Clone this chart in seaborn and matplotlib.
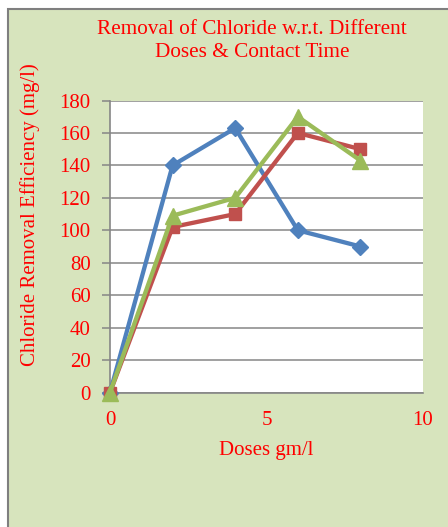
import matplotlib
matplotlib.use("Agg")
import matplotlib.pyplot as plt
from matplotlib.patches import Rectangle
import seaborn as sns
import pandas as pd

# Dose levels (gm/l) and chloride removal for each series (mg/l)
doses = [0, 2, 4, 6, 8]
series1 = [0, 140, 163, 100, 90]
series2 = [0, 102, 110, 160, 150]
series3 = [0, 109, 120, 170, 143]
series_names = ["Series1", "Series2", "Series3"]
y_ticks = [0, 20, 40, 60, 80, 100, 120, 140, 160, 180]
x_ticks = [0, 5, 10]

colors = ["#4F81BD", "#C0504D", "#9BBB59"]
markers = ["D", "s", "^"]
marker_sizes = [8, 8, 11.5]

sns.set_theme(style="white")
plt.rcParams["font.family"] = ["Liberation Serif", "DejaVu Serif"]

W, H, DPI = 448, 527, 100
fig = plt.figure(figsize=(W / DPI, H / DPI), dpi=DPI)
fig.patch.set_facecolor("white")

# Light green chart panel with grey frame
panel = Rectangle((8 / W, -0.01), 1.0, 1 - 9 / H + 0.01, transform=fig.transFigure,
                  facecolor="#D7E4BD", edgecolor="#7F7F7F", linewidth=1.5, zorder=-5)
fig.patches.append(panel)

left, right, top, bottom = 110, 423, 100.5, 392.5
ax = fig.add_axes([left / W, 1 - bottom / H, (right - left) / W, (bottom - top) / H])
ax.set_zorder(2)
ax.set_facecolor("white")

df = pd.DataFrame({
    "dose": doses * 3,
    "removal": series1 + series2 + series3,
    "series": [n for n in series_names for _ in doses],
})

for name, c, m, ms in zip(series_names, colors, markers, marker_sizes):
    sub = df[df["series"] == name]
    sns.lineplot(data=sub, x="dose", y="removal", ax=ax, color=c, marker=m,
                 markersize=ms, markeredgecolor=c, markeredgewidth=1,
                 linewidth=3.1, clip_on=False, zorder=3, legend=False)

ax.set_xlim(0, 10)
ax.set_ylim(0, 180)
ax.set_xticks(x_ticks)
ax.set_yticks(y_ticks)
ax.yaxis.grid(True, color="#868686", linewidth=1.1)
ax.xaxis.grid(False)
ax.set_axisbelow(True)

for s in ["top", "right"]:
    ax.spines[s].set_visible(False)
for s in ["left", "bottom"]:
    ax.spines[s].set_color("#868686")
    ax.spines[s].set_linewidth(1.2)

red = "#FF0000"
fs = 15
ax.tick_params(axis="y", which="major", direction="out", length=6, width=1.1,
               color="#868686", left=True, labelsize=fs, labelcolor=red, pad=8)
ax.tick_params(axis="x", which="major", length=0, labelsize=fs, labelcolor=red, pad=13)

ax.set_xlabel("Doses gm/l", fontsize=fs, color=red)
ax.set_ylabel("Chloride Removal Efficiency (mg/l)", fontsize=fs, color=red)
ax.xaxis.set_label_coords(0.5, -0.197)
ax.yaxis.set_label_coords(-0.256, 0.608)
ax.xaxis.label.set_va("center")
ax.yaxis.label.set_va("center")

fig.text(252 / W, 1 - 41 / H, "Removal of Chloride w.r.t. Different\nDoses & Contact Time",
         ha="center", va="center", multialignment="center", fontsize=15.3,
         color=red, linespacing=1.35)

fig.savefig("out.png", dpi=DPI)
